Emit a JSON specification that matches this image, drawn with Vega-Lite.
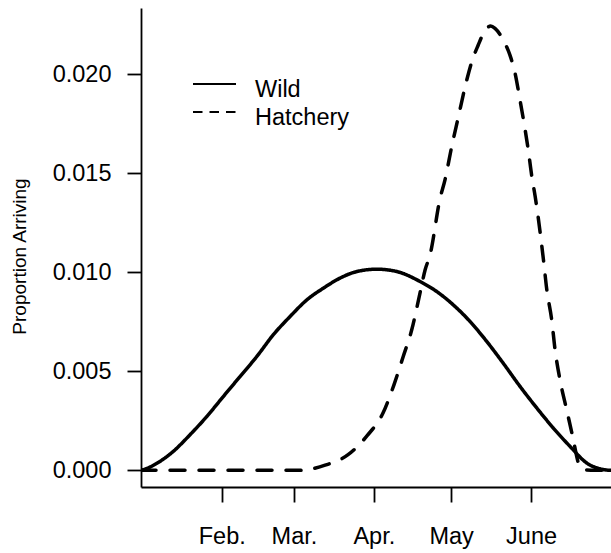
{
  "$schema": "https://vega.github.io/schema/vega-lite/v6.json",
  "width": 470,
  "height": 479,
  "autosize": "none",
  "padding": {"left": 141, "top": 8, "right": 0, "bottom": 66},
  "background": "white",
  "config": {
    "view": {"stroke": null},
    "font": "Liberation Sans",
    "axis": {"grid": false, "domainColor": "black", "tickColor": "black", "labelColor": "black", "titleColor": "black", "domainWidth": 1.8, "tickWidth": 1.8, "labelFont": "Liberation Sans", "titleFont": "Liberation Sans", "labelFlush": false, "labelOverlap": false, "labelBound": false}
  },
  "data": {
    "values": [
      {"day": 0.67, "p": 0.0, "group": "Wild"},
      {"day": 2, "p": 0.00005, "group": "Wild"},
      {"day": 8.0, "p": 0.00045, "group": "Wild"},
      {"day": 13.2, "p": 0.00096, "group": "Wild"},
      {"day": 19.7, "p": 0.0018, "group": "Wild"},
      {"day": 26.2, "p": 0.00272, "group": "Wild"},
      {"day": 32.6, "p": 0.00373, "group": "Wild"},
      {"day": 39.1, "p": 0.00474, "group": "Wild"},
      {"day": 45.6, "p": 0.00575, "group": "Wild"},
      {"day": 52.0, "p": 0.00685, "group": "Wild"},
      {"day": 58.5, "p": 0.00777, "group": "Wild"},
      {"day": 65.0, "p": 0.00861, "group": "Wild"},
      {"day": 71.4, "p": 0.0092, "group": "Wild"},
      {"day": 77.9, "p": 0.00971, "group": "Wild"},
      {"day": 84.4, "p": 0.01004, "group": "Wild"},
      {"day": 92.1, "p": 0.01016, "group": "Wild"},
      {"day": 99.9, "p": 0.01004, "group": "Wild"},
      {"day": 108.9, "p": 0.00954, "group": "Wild"},
      {"day": 115.4, "p": 0.00903, "group": "Wild"},
      {"day": 121.8, "p": 0.00836, "group": "Wild"},
      {"day": 128.3, "p": 0.00752, "group": "Wild"},
      {"day": 134.8, "p": 0.00651, "group": "Wild"},
      {"day": 141.2, "p": 0.00541, "group": "Wild"},
      {"day": 147.7, "p": 0.00424, "group": "Wild"},
      {"day": 154.2, "p": 0.00315, "group": "Wild"},
      {"day": 160.6, "p": 0.00214, "group": "Wild"},
      {"day": 167.1, "p": 0.00121, "group": "Wild"},
      {"day": 173.6, "p": 0.00037, "group": "Wild"},
      {"day": 180.0, "p": 0.00004, "group": "Wild"},
      {"day": 183.0, "p": 0.0, "group": "Wild"},
      {"day": 0.67, "p": 0.0, "group": "Hatchery"},
      {"day": 30, "p": 0.0, "group": "Hatchery"},
      {"day": 62, "p": 0.0, "group": "Hatchery"},
      {"day": 65.0, "p": 0.00003, "group": "Hatchery"},
      {"day": 72.1, "p": 0.00026, "group": "Hatchery"},
      {"day": 81.0, "p": 0.00079, "group": "Hatchery"},
      {"day": 88.4, "p": 0.00175, "group": "Hatchery"},
      {"day": 94.6, "p": 0.00291, "group": "Hatchery"},
      {"day": 98.8, "p": 0.00432, "group": "Hatchery"},
      {"day": 102.4, "p": 0.00575, "group": "Hatchery"},
      {"day": 105.7, "p": 0.0071, "group": "Hatchery"},
      {"day": 108.9, "p": 0.00895, "group": "Hatchery"},
      {"day": 110.9, "p": 0.01013, "group": "Hatchery"},
      {"day": 112.8, "p": 0.01088, "group": "Hatchery"},
      {"day": 116.7, "p": 0.01374, "group": "Hatchery"},
      {"day": 118.6, "p": 0.01467, "group": "Hatchery"},
      {"day": 121.2, "p": 0.01635, "group": "Hatchery"},
      {"day": 123.8, "p": 0.01786, "group": "Hatchery"},
      {"day": 126.4, "p": 0.01937, "group": "Hatchery"},
      {"day": 129.0, "p": 0.02064, "group": "Hatchery"},
      {"day": 131.5, "p": 0.02148, "group": "Hatchery"},
      {"day": 133.5, "p": 0.02207, "group": "Hatchery"},
      {"day": 136.3, "p": 0.02244, "group": "Hatchery"},
      {"day": 138.0, "p": 0.02232, "group": "Hatchery"},
      {"day": 141.2, "p": 0.02173, "group": "Hatchery"},
      {"day": 143.8, "p": 0.02097, "group": "Hatchery"},
      {"day": 145.8, "p": 0.02005, "group": "Hatchery"},
      {"day": 147.7, "p": 0.0187, "group": "Hatchery"},
      {"day": 149.7, "p": 0.01719, "group": "Hatchery"},
      {"day": 150.9, "p": 0.01618, "group": "Hatchery"},
      {"day": 152.3, "p": 0.01483, "group": "Hatchery"},
      {"day": 153.6, "p": 0.01382, "group": "Hatchery"},
      {"day": 156.8, "p": 0.01063, "group": "Hatchery"},
      {"day": 158.1, "p": 0.00912, "group": "Hatchery"},
      {"day": 160.0, "p": 0.0076, "group": "Hatchery"},
      {"day": 161.3, "p": 0.00609, "group": "Hatchery"},
      {"day": 163.2, "p": 0.00458, "group": "Hatchery"},
      {"day": 165.8, "p": 0.00306, "group": "Hatchery"},
      {"day": 168.4, "p": 0.00155, "group": "Hatchery"},
      {"day": 170.2, "p": 0.00044, "group": "Hatchery"},
      {"day": 172.2, "p": 0.00004, "group": "Hatchery"},
      {"day": 177.0, "p": 0.0, "group": "Hatchery"},
      {"day": 183.0, "p": 0.0, "group": "Hatchery"}
    ]
  },
  "mark": {"type": "line", "strokeWidth": 3.5, "strokeCap": "round", "strokeJoin": "round", "interpolate": "monotone", "clip": true},
  "encoding": {
    "x": {
      "field": "day", "type": "quantitative",
      "scale": {"domain": [0.67, 183.0], "nice": false, "zero": false},
      "axis": {
        "title": null, "values": [32, 60, 91, 121, 152],
        "labelExpr": "datum.value == 32 ? 'Feb.' : datum.value == 60 ? 'Mar.' : datum.value == 91 ? 'Apr.' : datum.value == 121 ? 'May' : 'June'",
        "tickSize": 15, "labelPadding": 22, "labelFontSize": 23.5, "labelAlign": "center", "labelBaseline": "top"
      }
    },
    "y": {
      "field": "p", "type": "quantitative",
      "scale": {"domain": [-0.00084, 0.02335], "nice": false, "zero": false},
      "axis": {
        "values": [0, 0.005, 0.01, 0.015, 0.02], "format": ".3f",
        "tickSize": 14, "labelPadding": 16, "labelFontSize": 23.5, "labelAlign": "right", "labelBaseline": "middle",
        "title": "Proportion Arriving", "titleFontSize": 19, "titleFontWeight": "normal",
        "titleX": -116, "titleY": 248, "titleAngle": -90, "titleBaseline": "alphabetic", "titleAlign": "center"
      }
    },
    "detail": {"field": "group", "type": "nominal"},
    "strokeDash": {
      "condition": {"test": "datum.group === 'Hatchery'", "value": [15, 14]},
      "value": [1, 0]
    },
    "color": {
      "field": "group", "type": "nominal",
      "scale": {"domain": ["Wild", "Hatchery"], "range": ["black", "black"]},
      "legend": {
        "orient": "none", "legendX": 51, "legendY": 68, "padding": 0, "title": null,
        "clipHeight": 28, "rowPadding": 0,
        "symbolType": "stroke", "symbolSize": 1849, "symbolStrokeWidth": 2,
        "labelFontSize": 23.5, "labelOffset": 18, "labelColor": "black", "labelFont": "Liberation Sans", "labelBaseline": "middle",
        "encode": {
          "symbols": {
            "update": {"y": {"value": 8}, "strokeDash": [{"test": "datum.value === 'Hatchery'", "value": [9.5, 7]}, {"value": [1, 0]}]}
          }
        }
      }
    }
  }
}
